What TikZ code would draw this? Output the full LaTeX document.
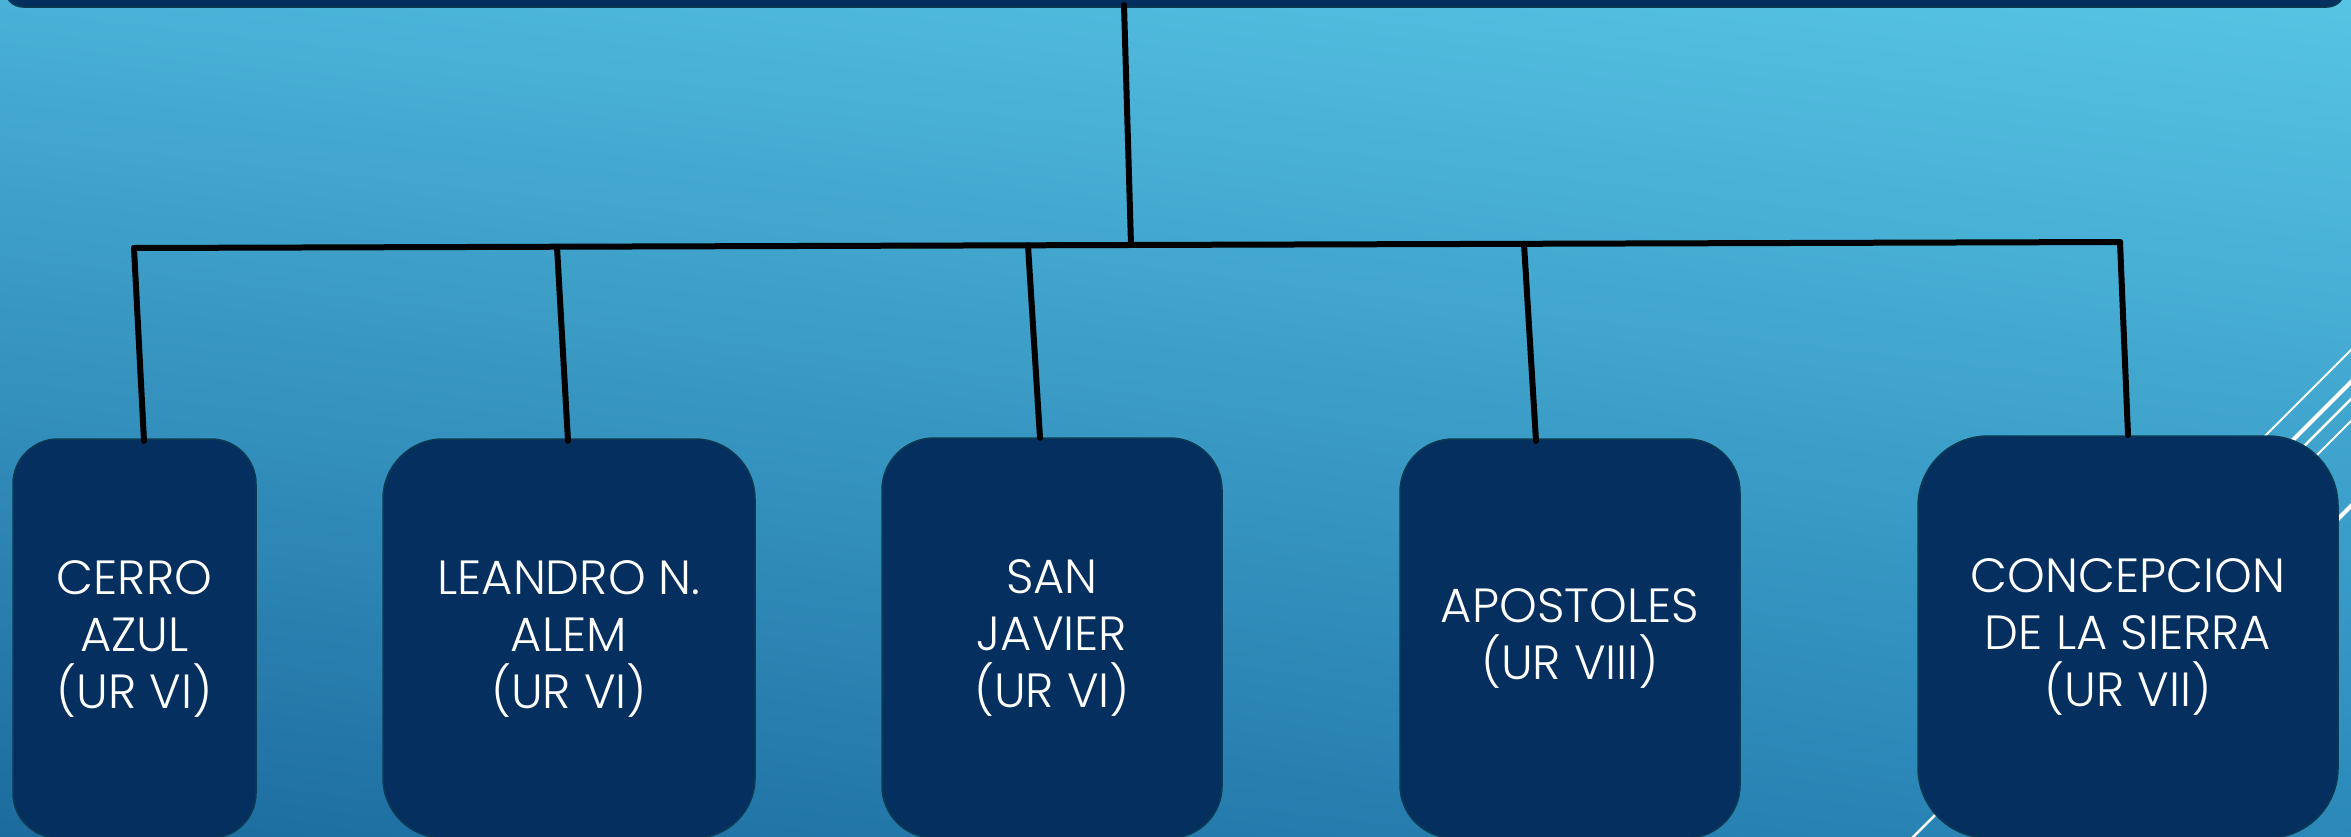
\documentclass[tikz,border=0pt]{standalone}
\usepackage{fontspec}
\setmainfont{Poppins Light}
\usetikzlibrary{calc,shadings}
\definecolor{navy}{HTML}{052F5F}
\definecolor{boxedge}{HTML}{0B3A52}
\definecolor{bgTL}{HTML}{49B1D7}
\definecolor{bgTR}{HTML}{57C4E4}
\definecolor{bgBL}{HTML}{1C6B9E}
\definecolor{bgBR}{HTML}{2B88B9}
\begin{document}
\begin{tikzpicture}[x=1pt,y=-1pt,
  box/.style={draw=boxedge, line width=1.5pt, fill=navy, rounded corners=#1,
    inner sep=0pt, outer sep=0pt, text=white, align=center,
    font=\fontsize{48}{57}\selectfont},
  topbar/.style={draw=boxedge, line width=1.5pt, fill=navy, rounded corners=18pt,
    inner sep=0pt, outer sep=0pt},
  conn/.style={line width=6pt, line cap=round, draw=black},
  deco/.style={draw=white, line width=#1}]
\useasboundingbox (0,0) rectangle (2351,836);
\clip (0,0) rectangle (2351,836);
\shade[upper left=bgTL, upper right=bgTR, lower left=bgBL, lower right=bgBR] (0,0) rectangle (2351,836);
% decorative theme lines
\draw[deco=2pt] (2200,501) -- (2420,281);
\draw[deco=4pt] (2250,483) -- (2420,313);
\draw[deco=2.5pt] (1880,870) -- (2420,330);
\draw[deco=2pt] (2280,492) -- (2420,352);
\draw[deco=4pt] (2300,557) -- (2420,437);
% top bar
\node[topbar, minimum width=2340pt, minimum height=38pt] (top) at (1175,-12) {};
% boxes
\node[box=45pt, minimum width=243pt, minimum height=399pt] (b1) at (134.5,638.5) {CERRO\\AZUL\\(UR VI)};
\node[box=60pt, minimum width=372pt, minimum height=399pt] (b2) at (569,638.5) {LEANDRO N.\\ALEM\\(UR VI)};
\node[box=52pt, minimum width=340pt, minimum height=400pt] (b3) at (1052,638) {SAN\\JAVIER\\(UR VI)};
\node[box=53pt, minimum width=340pt, minimum height=399pt] (b4) at (1570,638.5) {APOSTOLES\\(UR VIII)};
\node[box=70pt, minimum width=420pt, minimum height=402pt] (b5) at (2128,637) {CONCEPCION\\DE LA SIERRA\\(UR VII)};
% connectors
\coordinate (j) at (1131,245);
\coordinate (h1) at (134,248);
\coordinate (h2) at (557,246.7);
\coordinate (h3) at (1028,245.3);
\coordinate (h4) at (1524,243.8);
\coordinate (h5) at (2120,242);
\draw[conn] ($(top.south)+(-51,-2)$) -- (j);
\draw[conn] (h1) -- (h5);
\draw[conn] (h1) -- ($(b1.north)+(9.5,2)$);
\draw[conn] (h2) -- ($(b2.north)+(-1,2)$);
\draw[conn] (h3) -- ($(b3.north)+(-12,0)$);
\draw[conn] (h4) -- ($(b4.north)+(-34,2)$);
\draw[conn] (h5) -- ($(b5.north)+(0,-1)$);
\end{tikzpicture}
\end{document}
